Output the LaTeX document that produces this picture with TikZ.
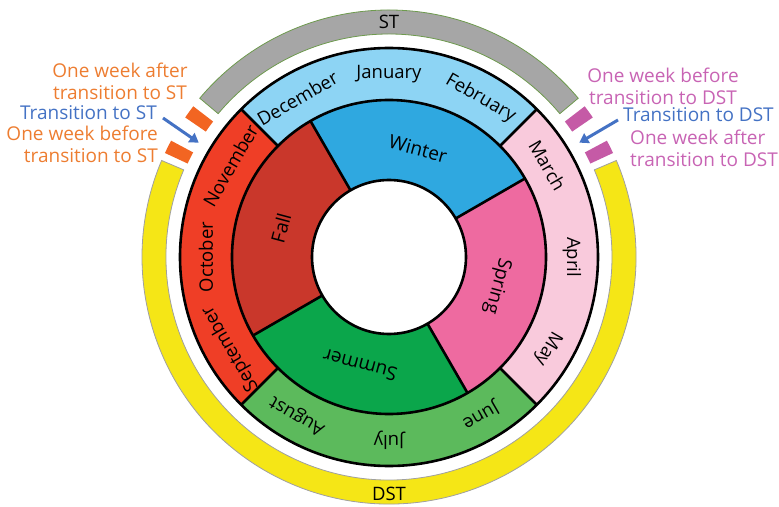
\documentclass[tikz,border=0pt]{standalone}
\usepackage{fontspec}
\setmainfont{Open Sans}
\usetikzlibrary{arrows.meta}

\definecolor{monthwinter}{HTML}{8DD4F4}
\definecolor{seasonwinter}{HTML}{2FA8E0}
\definecolor{monthfall}{HTML}{EF3E26}
\definecolor{seasonfall}{HTML}{C9372B}
\definecolor{monthspring}{HTML}{F9CADC}
\definecolor{seasonspring}{HTML}{EE6AA0}
\definecolor{monthsummer}{HTML}{5CBA5C}
\definecolor{seasonsummer}{HTML}{0BA64B}
\definecolor{stgray}{HTML}{A6A6A6}
\definecolor{stedge}{HTML}{6E9A4E}
\definecolor{dstyellow}{HTML}{F5E616}
\definecolor{dstedge}{HTML}{A0A0A0}
\definecolor{markorange}{HTML}{F26522}
\definecolor{textorange}{HTML}{ED7D31}
\definecolor{markpurple}{HTML}{C55AA6}
\definecolor{textpurple}{HTML}{C864B4}
\definecolor{textblue}{HTML}{4472C4}

\begin{document}
\begin{tikzpicture}[x=1pt,y=1pt,
  lbl/.style={font=\fontsize{18.5}{22}\selectfont, inner sep=0pt},
  seasonlbl/.style={font=\fontsize{19}{22}\selectfont, inner sep=0pt},
  sidelbl/.style={font=\fontsize{19}{22}\selectfont, inner sep=0pt},
  rim/.style={line width=2.6pt},
  tarrow/.style={textblue, line width=3pt, -{Triangle[length=9pt,width=11pt]}}]
  \useasboundingbox (-389,-249) rectangle (390,257);

  % outer ring: ST and DST
  \filldraw[fill=stgray, draw=stedge, line width=0.8pt] (40:223) arc[start angle=40,end angle=140,radius=223]
    -- (140:247) arc[start angle=140,end angle=40,radius=247] -- cycle;
  \filldraw[fill=dstyellow, draw=dstedge, line width=0.8pt] (157:223) arc[start angle=157,end angle=383,radius=223]
    -- (383:247) arc[start angle=383,end angle=157,radius=247] -- cycle;

  % one-week marks
  \foreach \a/\c in {144/markorange, 153.5/markorange, 36/markpurple, 26.5/markpurple}
    \fill[\c] ({\a-1.6}:222) arc[start angle=\a-1.6,end angle=\a+1.6,radius=222]
      -- ({\a+1.6}:247) arc[start angle=\a+1.6,end angle=\a-1.6,radius=247] -- cycle;

  % month ring
  \foreach \a/\c in {45/monthwinter, 135/monthfall, 225/monthsummer, 315/monthspring}
    \fill[\c] (\a:157) arc[start angle=\a,end angle=\a+90,radius=157]
      -- ({\a+90}:209) arc[start angle=\a+90,end angle=\a,radius=209] -- cycle;

  % season ring
  \foreach \a/\c in {30/seasonwinter, 120/seasonfall, 210/seasonsummer, 300/seasonspring}
    \fill[\c] (\a:77) arc[start angle=\a,end angle=\a+90,radius=77]
      -- ({\a+90}:157) arc[start angle=\a+90,end angle=\a,radius=157] -- cycle;

  % black outlines
  \draw[rim] (0,0) circle[radius=209];
  \draw[rim] (0,0) circle[radius=157];
  \draw[rim] (0,0) circle[radius=77];
  \foreach \a in {45,135,225,315}
    \draw[rim] (\a:157) -- (\a:209);
  \foreach \a in {30,120,210,300}
    \draw[rim] (\a:77) -- (\a:157);

  % months
  \foreach \mname [count=\i, evaluate=\i as \ang using {90-30*(\i-1)}] in
    {January, February, March, April, May, June, July, August, September, October, November, December}
    \node[lbl, rotate=\ang-90] (mon\i) at (\ang:183) {\mname};

  % seasons
  \foreach \sname/\a in {Winter/75, Fall/165, Summer/255, Spring/345}
    \node[seasonlbl, rotate=\a-90] (\sname) at (\a:112) {\sname};

  \node[lbl] (st) at (90:235) {ST};
  \node[lbl] (dst) at (270:237) {DST};

  % transition labels
  \node[sidelbl, textorange, align=center] (afterST) at (-269,176) {One week after\\transition to ST};
  \node[sidelbl, textblue, anchor=east] (tST) at (-232,144) {Transition to ST};
  \node[sidelbl, textorange, align=right, anchor=east] (beforeST) at (-231,113) {One week before\\transition to ST};

  \node[sidelbl, textpurple, align=center] (beforeDST) at (274,171) {One week before\\transition to DST};
  \node[sidelbl, textblue, anchor=west] (tDST) at (234,142) {Transition to DST};
  \node[sidelbl, textpurple, align=left, anchor=west] (afterDST) at (241,109) {One week after\\transition to DST};

  \coordinate (tipST) at (149:222);
  \coordinate (tipDST) at (31:222);
  \draw[tarrow] ([shift={(6,-5)}]tST.east) -- (tipST);
  \draw[tarrow] ([shift={(-5,-5)}]tDST.west) -- (tipDST);
\end{tikzpicture}
\end{document}
